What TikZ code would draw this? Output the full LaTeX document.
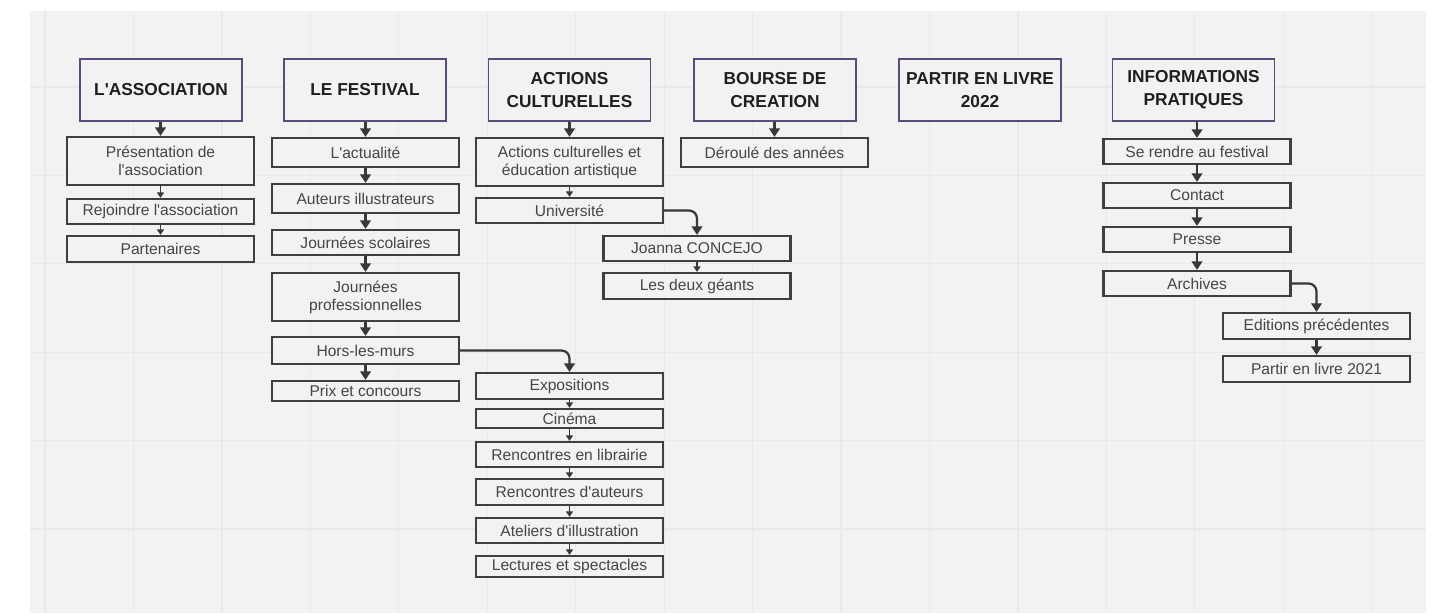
\documentclass[tikz,border=0pt]{standalone}
\usepackage{fontspec}
\setmainfont{Liberation Sans}
\usetikzlibrary{arrows.meta}
\definecolor{bgc}{HTML}{F2F2F2}
\definecolor{gridc}{HTML}{E9E9E9}
\definecolor{boxc}{HTML}{3F3F3F}
\definecolor{hdrc}{HTML}{5A4B7C}
\definecolor{txtc}{HTML}{454545}
\definecolor{htxtc}{HTML}{1F1F1F}
\definecolor{arrc}{HTML}{383838}
\newcommand\ap{\textquotesingle}
\begin{document}
\begin{tikzpicture}[x=1pt,y=-1pt,
 hdr/.style={draw=hdrc, line width=1.8pt, fill=bgc, minimum width=162pt, minimum height=62pt, inner sep=0pt, align=center, text=htxtc, font=\bfseries\fontsize{17.3}{23}\selectfont},
 kid/.style={draw=boxc, line width=2.2pt, fill=bgc, minimum width=187pt, inner sep=0pt, align=center, text=txtc, font=\fontsize{15.6}{18}\selectfont},
 bigarr/.style={draw=arrc, line width=2.2pt, -{Triangle[width=10.5pt,length=8.5pt]}},
 smallarr/.style={draw=arrc, line width=1.5pt, -{Triangle[width=7pt,length=5.5pt]}},
 elbow/.style={bigarr, rounded corners=8pt}]
% canvas
\useasboundingbox (0,0) rectangle (1442,613);
\fill[white] (0,0) rectangle (1442,613);
\fill[bgc] (30,11) rectangle (1426,613);
\foreach \i in {0,...,15} {\draw[gridc, line width=1.2pt] ({45+88.45*\i},11) -- ({45+88.45*\i},613);}
\foreach \j in {0,...,5} {\draw[gridc, line width=1.2pt] (30,{87+88.4*\j}) -- (1426,{87+88.4*\j});}
% headers
\node[hdr] (h1) at (161,90) {L\ap ASSOCIATION};
\node[hdr] (h2) at (365,90) {LE FESTIVAL};
\node[hdr] (h3) at (569.5,90) {ACTIONS\\CULTURELLES};
\node[hdr] (h4) at (775,90) {BOURSE DE\\CREATION};
\node[hdr] (h5) at (980,90) {PARTIR EN LIVRE\\2022};
\node[hdr] (h6) at (1193.5,90) {INFORMATIONS\\PRATIQUES};
% column 1
\node[kid, minimum height=48pt] (a1) at (160.5,161) {Présentation de\\l\ap association};
\node[kid, minimum height=25pt] (a2) at (160.5,211.5) {Rejoindre l\ap association};
\node[kid, minimum height=26pt] (a3) at (160.5,249) {Partenaires};
% column 2
\node[kid, minimum height=29pt] (b1) at (365.5,152.5) {L\ap actualité};
\node[kid, minimum height=29pt] (b2) at (365.5,198.5) {Auteurs illustrateurs};
\node[kid, minimum height=25pt] (b3) at (365.5,242.5) {Journées scolaires};
\node[kid, minimum height=48pt] (b4) at (365.5,297) {Journées\\professionnelles};
\node[kid, minimum height=27pt] (b5) at (365.5,350.5) {Hors-les-murs};
\node[kid, minimum height=20pt] (b6) at (365.5,391) {Prix et concours};
% column 3
\node[kid, minimum height=48pt] (c1) at (569.5,162) {Actions culturelles et\\éducation artistique};
\node[kid, minimum height=25pt] (c2) at (569.5,210.5) {Université};
\node[kid, minimum height=25pt] (c3) at (697,248.5) {Joanna CONCEJO};
\node[kid, minimum height=26pt] (c4) at (697,286) {Les deux géants};
% column 4
\node[kid, minimum height=29pt] (d1) at (774.5,152.5) {Déroulé des années};
% hors-les-murs branch
\node[kid, minimum height=26pt] (e1) at (569.5,386) {Expositions};
\node[kid, minimum height=19pt] (e2) at (569.5,418.5) {Cinéma};
\node[kid, minimum height=25pt] (e3) at (569.5,454.5) {Rencontres en librairie};
\node[kid, minimum height=26pt] (e4) at (569.5,492) {Rencontres d\ap auteurs};
\node[kid, minimum height=25pt] (e5) at (569.5,530.5) {Ateliers d\ap illustration};
\node[kid, minimum height=21pt] (e6) at (569.5,566.5) {Lectures et spectacles};
% column 6
\node[kid, minimum height=25pt] (f1) at (1197,151.5) {Se rendre au festival};
\node[kid, minimum height=25pt] (f2) at (1197,195.5) {Contact};
\node[kid, minimum height=25pt] (f3) at (1197,239.5) {Presse};
\node[kid, minimum height=25pt] (f4) at (1197,283.5) {Archives};
\node[kid, minimum height=26pt] (f5) at (1316.5,326) {Editions précédentes};
\node[kid, minimum height=26pt] (f6) at (1316.5,369) {Partir en livre 2021};
% connectors
\draw[bigarr] (a1.north |- h1.south) -- (a1.north);
\draw[smallarr] (a1.south) -- (a2.north);
\draw[smallarr] (a2.south) -- (a3.north);
\draw[bigarr] (b1.north |- h2.south) -- (b1.north);
\draw[bigarr] (b1.south) -- (b2.north);
\draw[bigarr] (b2.south) -- (b3.north);
\draw[bigarr] (b3.south) -- (b4.north);
\draw[bigarr] (b4.south) -- (b5.north);
\draw[bigarr] (b5.south) -- (b6.north);
\draw[elbow] (b5.east) -| (e1.north);
\draw[bigarr] (c1.north |- h3.south) -- (c1.north);
\draw[smallarr] (c1.south) -- (c2.north);
\draw[elbow] (c2.east) -| (c3.north);
\draw[smallarr] (c3.south) -- (c4.north);
\draw[bigarr] (d1.north |- h4.south) -- (d1.north);
\draw[smallarr] (e1.south) -- (e2.north);
\draw[smallarr] (e2.south) -- (e3.north);
\draw[smallarr] (e3.south) -- (e4.north);
\draw[smallarr] (e4.south) -- (e5.north);
\draw[smallarr] (e5.south) -- (e6.north);
\draw[bigarr] (f1.north |- h6.south) -- (f1.north);
\draw[bigarr] (f1.south) -- (f2.north);
\draw[bigarr] (f2.south) -- (f3.north);
\draw[bigarr] (f3.south) -- (f4.north);
\draw[elbow] (f4.east) -| (f5.north);
\draw[bigarr] (f5.south) -- (f6.north);
\end{tikzpicture}
\end{document}
